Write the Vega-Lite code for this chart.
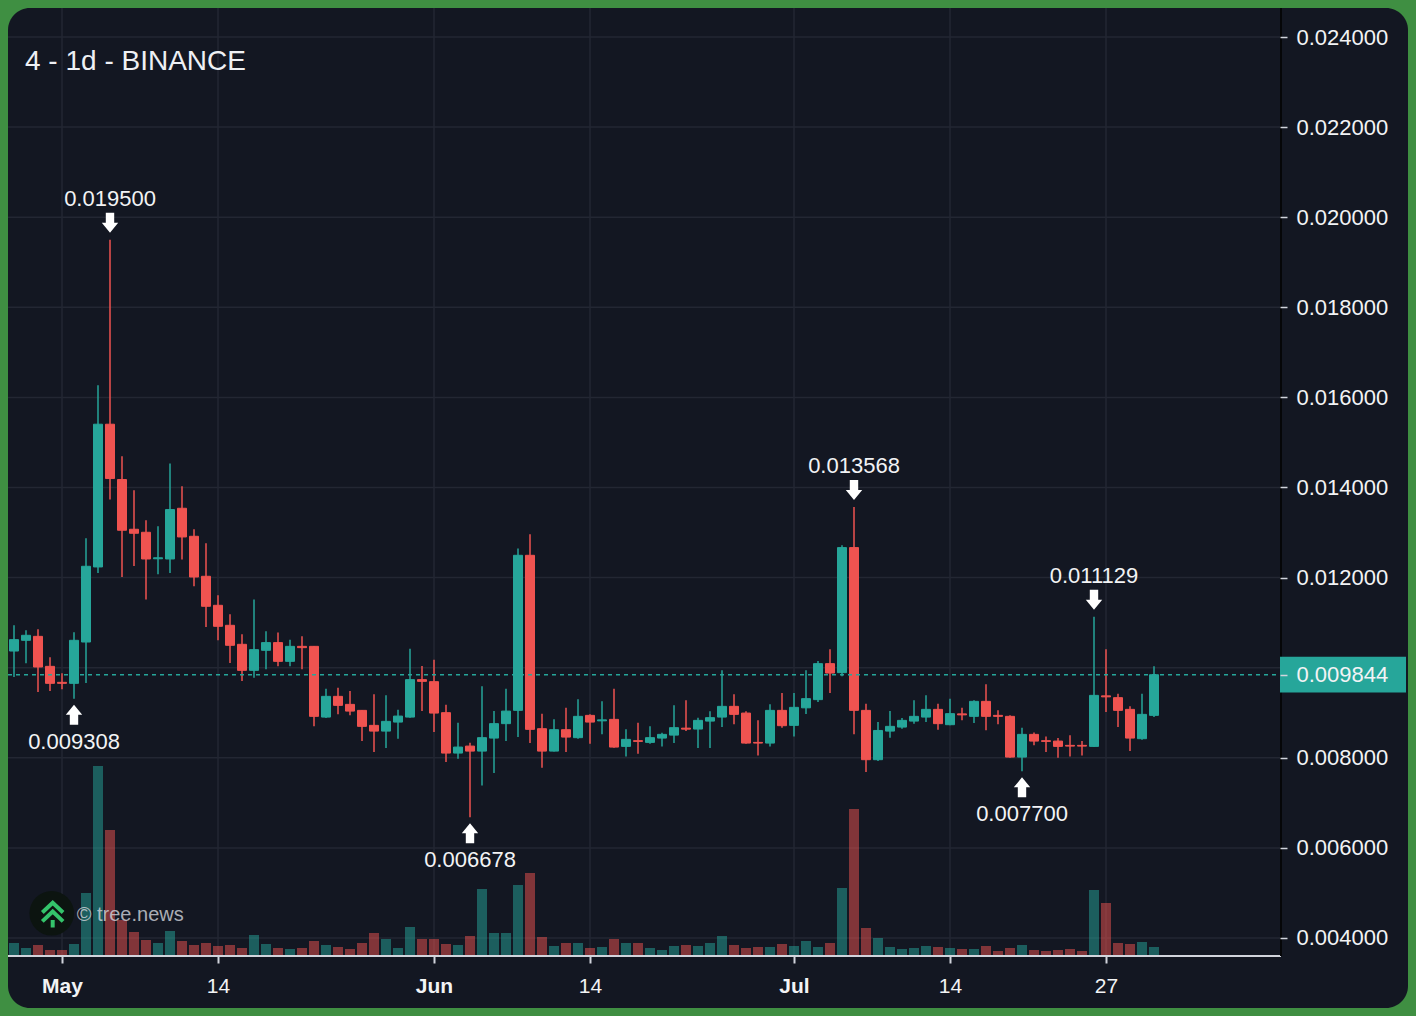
{
  "$schema": "https://vega.github.io/schema/vega-lite/v6.json",
  "width": 1400,
  "height": 1000,
  "autosize": {"type": "none"},
  "padding": 8,
  "background": "#3f8f42",
  "config": {
    "font": "Liberation Sans",
    "view": {"fill": "#131722", "cornerRadius": 22, "stroke": null},
    "scale": {"continuousPadding": 0}
  },
  "title": {
    "text": "4 - 1d - BINANCE",
    "anchor": "start",
    "frame": "group",
    "orient": "top",
    "offset": -91,
    "baseline": "alphabetic",
    "dx": 17,
    "fontSize": 28,
    "fontWeight": "normal",
    "color": "#eef0f4",
    "font": "Liberation Sans"
  },
  "datasets": {
    "candles": [
      {"date": "2024-04-27", "open": 0.010370, "high": 0.010941, "low": 0.009792, "close": 0.010623, "vol": 12},
      {"date": "2024-04-28", "open": 0.010608, "high": 0.010830, "low": 0.010097, "close": 0.010719, "vol": 7},
      {"date": "2024-04-29", "open": 0.010696, "high": 0.010852, "low": 0.009459, "close": 0.010015, "vol": 10},
      {"date": "2024-04-30", "open": 0.010030, "high": 0.010230, "low": 0.009482, "close": 0.009653, "vol": 5},
      {"date": "2024-05-01", "open": 0.009675, "high": 0.009875, "low": 0.009519, "close": 0.009653, "vol": 5},
      {"date": "2024-05-02", "open": 0.009653, "high": 0.010785, "low": 0.009308, "close": 0.010608, "vol": 11},
      {"date": "2024-05-03", "open": 0.010570, "high": 0.012873, "low": 0.009659, "close": 0.012251, "vol": 62},
      {"date": "2024-05-04", "open": 0.012236, "high": 0.016271, "low": 0.012102, "close": 0.015405, "vol": 189},
      {"date": "2024-05-05", "open": 0.015405, "high": 0.019500, "low": 0.013733, "close": 0.014199, "vol": 125},
      {"date": "2024-05-06", "open": 0.014177, "high": 0.014694, "low": 0.012013, "close": 0.013051, "vol": 35},
      {"date": "2024-05-07", "open": 0.013073, "high": 0.013939, "low": 0.012258, "close": 0.012984, "vol": 23},
      {"date": "2024-05-08", "open": 0.013006, "high": 0.013273, "low": 0.011512, "close": 0.012413, "vol": 15},
      {"date": "2024-05-09", "open": 0.012418, "high": 0.013140, "low": 0.012073, "close": 0.012440, "vol": 12},
      {"date": "2024-05-10", "open": 0.012413, "high": 0.014532, "low": 0.012102, "close": 0.013510, "vol": 24},
      {"date": "2024-05-11", "open": 0.013539, "high": 0.014028, "low": 0.012400, "close": 0.012902, "vol": 14},
      {"date": "2024-05-12", "open": 0.012917, "high": 0.013073, "low": 0.011807, "close": 0.012013, "vol": 10},
      {"date": "2024-05-13", "open": 0.012029, "high": 0.012762, "low": 0.010903, "close": 0.011363, "vol": 12},
      {"date": "2024-05-14", "open": 0.011385, "high": 0.011607, "low": 0.010608, "close": 0.010919, "vol": 9},
      {"date": "2024-05-15", "open": 0.010941, "high": 0.011185, "low": 0.010103, "close": 0.010497, "vol": 10},
      {"date": "2024-05-16", "open": 0.010519, "high": 0.010741, "low": 0.009704, "close": 0.009941, "vol": 7},
      {"date": "2024-05-17", "open": 0.009941, "high": 0.011512, "low": 0.009779, "close": 0.010401, "vol": 20},
      {"date": "2024-05-18", "open": 0.010386, "high": 0.010808, "low": 0.009964, "close": 0.010557, "vol": 11},
      {"date": "2024-05-19", "open": 0.010557, "high": 0.010779, "low": 0.010030, "close": 0.010141, "vol": 7},
      {"date": "2024-05-20", "open": 0.010141, "high": 0.010623, "low": 0.010030, "close": 0.010474, "vol": 6},
      {"date": "2024-05-21", "open": 0.010474, "high": 0.010696, "low": 0.009964, "close": 0.010445, "vol": 7},
      {"date": "2024-05-22", "open": 0.010474, "high": 0.010480, "low": 0.008698, "close": 0.008920, "vol": 14},
      {"date": "2024-05-23", "open": 0.008904, "high": 0.009535, "low": 0.008882, "close": 0.009364, "vol": 10},
      {"date": "2024-05-24", "open": 0.009364, "high": 0.009557, "low": 0.008964, "close": 0.009164, "vol": 8},
      {"date": "2024-05-25", "open": 0.009186, "high": 0.009482, "low": 0.008942, "close": 0.009037, "vol": 6},
      {"date": "2024-05-26", "open": 0.009053, "high": 0.009060, "low": 0.008371, "close": 0.008698, "vol": 12},
      {"date": "2024-05-27", "open": 0.008720, "high": 0.009408, "low": 0.008127, "close": 0.008593, "vol": 22},
      {"date": "2024-05-28", "open": 0.008593, "high": 0.009386, "low": 0.008216, "close": 0.008809, "vol": 16},
      {"date": "2024-05-29", "open": 0.008793, "high": 0.009068, "low": 0.008424, "close": 0.008926, "vol": 7},
      {"date": "2024-05-30", "open": 0.008904, "high": 0.010423, "low": 0.008891, "close": 0.009735, "vol": 28},
      {"date": "2024-05-31", "open": 0.009735, "high": 0.010037, "low": 0.009037, "close": 0.009697, "vol": 16},
      {"date": "2024-06-01", "open": 0.009690, "high": 0.010179, "low": 0.008571, "close": 0.008993, "vol": 16},
      {"date": "2024-06-02", "open": 0.009002, "high": 0.009179, "low": 0.007905, "close": 0.008105, "vol": 11},
      {"date": "2024-06-03", "open": 0.008105, "high": 0.008780, "low": 0.007980, "close": 0.008238, "vol": 10},
      {"date": "2024-06-04", "open": 0.008260, "high": 0.008336, "low": 0.006678, "close": 0.008149, "vol": 19},
      {"date": "2024-06-05", "open": 0.008149, "high": 0.009586, "low": 0.007387, "close": 0.008447, "vol": 66},
      {"date": "2024-06-06", "open": 0.008438, "high": 0.009037, "low": 0.007660, "close": 0.008758, "vol": 22},
      {"date": "2024-06-07", "open": 0.008758, "high": 0.009535, "low": 0.008371, "close": 0.009037, "vol": 22},
      {"date": "2024-06-08", "open": 0.009053, "high": 0.012644, "low": 0.008460, "close": 0.012495, "vol": 70},
      {"date": "2024-06-09", "open": 0.012495, "high": 0.012962, "low": 0.008327, "close": 0.008631, "vol": 82},
      {"date": "2024-06-10", "open": 0.008646, "high": 0.008980, "low": 0.007780, "close": 0.008149, "vol": 18},
      {"date": "2024-06-11", "open": 0.008149, "high": 0.008853, "low": 0.008140, "close": 0.008624, "vol": 9},
      {"date": "2024-06-12", "open": 0.008624, "high": 0.009113, "low": 0.008127, "close": 0.008460, "vol": 12},
      {"date": "2024-06-13", "open": 0.008447, "high": 0.009297, "low": 0.008424, "close": 0.008920, "vol": 12},
      {"date": "2024-06-14", "open": 0.008942, "high": 0.008964, "low": 0.008313, "close": 0.008793, "vol": 7},
      {"date": "2024-06-15", "open": 0.008820, "high": 0.009253, "low": 0.008520, "close": 0.008842, "vol": 8},
      {"date": "2024-06-16", "open": 0.008853, "high": 0.009535, "low": 0.008224, "close": 0.008238, "vol": 16},
      {"date": "2024-06-17", "open": 0.008253, "high": 0.008631, "low": 0.008031, "close": 0.008409, "vol": 12},
      {"date": "2024-06-18", "open": 0.008380, "high": 0.008780, "low": 0.008091, "close": 0.008364, "vol": 12},
      {"date": "2024-06-19", "open": 0.008342, "high": 0.008698, "low": 0.008313, "close": 0.008447, "vol": 7},
      {"date": "2024-06-20", "open": 0.008438, "high": 0.008558, "low": 0.008253, "close": 0.008520, "vol": 5},
      {"date": "2024-06-21", "open": 0.008504, "high": 0.009164, "low": 0.008327, "close": 0.008669, "vol": 9},
      {"date": "2024-06-22", "open": 0.008658, "high": 0.009275, "low": 0.008593, "close": 0.008636, "vol": 10},
      {"date": "2024-06-23", "open": 0.008638, "high": 0.008891, "low": 0.008216, "close": 0.008831, "vol": 9},
      {"date": "2024-06-24", "open": 0.008815, "high": 0.009031, "low": 0.008216, "close": 0.008891, "vol": 12},
      {"date": "2024-06-25", "open": 0.008904, "high": 0.009941, "low": 0.008682, "close": 0.009142, "vol": 19},
      {"date": "2024-06-26", "open": 0.009142, "high": 0.009408, "low": 0.008742, "close": 0.008964, "vol": 10},
      {"date": "2024-06-27", "open": 0.008993, "high": 0.009031, "low": 0.008313, "close": 0.008327, "vol": 7},
      {"date": "2024-06-28", "open": 0.008342, "high": 0.008831, "low": 0.008053, "close": 0.008327, "vol": 8},
      {"date": "2024-06-29", "open": 0.008327, "high": 0.009186, "low": 0.008253, "close": 0.009053, "vol": 8},
      {"date": "2024-06-30", "open": 0.009053, "high": 0.009437, "low": 0.008669, "close": 0.008713, "vol": 11},
      {"date": "2024-07-01", "open": 0.008720, "high": 0.009437, "low": 0.008475, "close": 0.009120, "vol": 9},
      {"date": "2024-07-02", "open": 0.009109, "high": 0.009941, "low": 0.008971, "close": 0.009313, "vol": 14},
      {"date": "2024-07-03", "open": 0.009291, "high": 0.010148, "low": 0.009237, "close": 0.010090, "vol": 8},
      {"date": "2024-07-04", "open": 0.010090, "high": 0.010408, "low": 0.009437, "close": 0.009881, "vol": 12},
      {"date": "2024-07-05", "open": 0.009890, "high": 0.012718, "low": 0.009808, "close": 0.012666, "vol": 67},
      {"date": "2024-07-06", "open": 0.012666, "high": 0.013568, "low": 0.008520, "close": 0.009053, "vol": 146},
      {"date": "2024-07-07", "open": 0.009053, "high": 0.009202, "low": 0.007683, "close": 0.007958, "vol": 27},
      {"date": "2024-07-08", "open": 0.007958, "high": 0.008793, "low": 0.007927, "close": 0.008607, "vol": 17},
      {"date": "2024-07-09", "open": 0.008593, "high": 0.009037, "low": 0.008447, "close": 0.008698, "vol": 8},
      {"date": "2024-07-10", "open": 0.008682, "high": 0.008882, "low": 0.008646, "close": 0.008831, "vol": 6},
      {"date": "2024-07-11", "open": 0.008815, "high": 0.009275, "low": 0.008758, "close": 0.008920, "vol": 7},
      {"date": "2024-07-12", "open": 0.008904, "high": 0.009386, "low": 0.008793, "close": 0.009075, "vol": 9},
      {"date": "2024-07-13", "open": 0.009075, "high": 0.009202, "low": 0.008624, "close": 0.008758, "vol": 8},
      {"date": "2024-07-14", "open": 0.008735, "high": 0.009313, "low": 0.008720, "close": 0.008980, "vol": 7},
      {"date": "2024-07-15", "open": 0.008975, "high": 0.009113, "low": 0.008831, "close": 0.008953, "vol": 6},
      {"date": "2024-07-16", "open": 0.008920, "high": 0.009275, "low": 0.008771, "close": 0.009253, "vol": 6},
      {"date": "2024-07-17", "open": 0.009253, "high": 0.009630, "low": 0.008609, "close": 0.008920, "vol": 9},
      {"date": "2024-07-18", "open": 0.008942, "high": 0.009053, "low": 0.008742, "close": 0.008920, "vol": 4},
      {"date": "2024-07-19", "open": 0.008920, "high": 0.008942, "low": 0.008002, "close": 0.008016, "vol": 7},
      {"date": "2024-07-20", "open": 0.008016, "high": 0.008669, "low": 0.007700, "close": 0.008520, "vol": 10},
      {"date": "2024-07-21", "open": 0.008520, "high": 0.008564, "low": 0.008276, "close": 0.008371, "vol": 5},
      {"date": "2024-07-22", "open": 0.008380, "high": 0.008475, "low": 0.008127, "close": 0.008364, "vol": 4},
      {"date": "2024-07-23", "open": 0.008371, "high": 0.008438, "low": 0.008002, "close": 0.008253, "vol": 5},
      {"date": "2024-07-24", "open": 0.008276, "high": 0.008498, "low": 0.008031, "close": 0.008260, "vol": 6},
      {"date": "2024-07-25", "open": 0.008276, "high": 0.008371, "low": 0.008053, "close": 0.008260, "vol": 4},
      {"date": "2024-07-26", "open": 0.008253, "high": 0.011129, "low": 0.008238, "close": 0.009386, "vol": 65},
      {"date": "2024-07-27", "open": 0.009375, "high": 0.010408, "low": 0.009015, "close": 0.009353, "vol": 52},
      {"date": "2024-07-28", "open": 0.009335, "high": 0.009424, "low": 0.008682, "close": 0.009053, "vol": 12},
      {"date": "2024-07-29", "open": 0.009075, "high": 0.009142, "low": 0.008149, "close": 0.008438, "vol": 11},
      {"date": "2024-07-30", "open": 0.008424, "high": 0.009424, "low": 0.008402, "close": 0.008964, "vol": 13},
      {"date": "2024-07-31", "open": 0.008942, "high": 0.010030, "low": 0.008904, "close": 0.009844, "vol": 8}
    ],
    "annotations": [
      {"date": "2024-05-05", "price": 0.0195, "label": "0.019500", "kind": "high"},
      {"date": "2024-07-06", "price": 0.013568, "label": "0.013568", "kind": "high"},
      {"date": "2024-07-26", "price": 0.011129, "label": "0.011129", "kind": "high"},
      {"date": "2024-05-02", "price": 0.009308, "label": "0.009308", "kind": "low"},
      {"date": "2024-06-04", "price": 0.006678, "label": "0.006678", "kind": "low"},
      {"date": "2024-07-20", "price": 0.0077, "label": "0.007700", "kind": "low"}
    ],
    "hgrid": [
      {"p": 0.004}, {"p": 0.006}, {"p": 0.008}, {"p": 0.010}, {"p": 0.012}, {"p": 0.014},
      {"p": 0.016}, {"p": 0.018}, {"p": 0.020}, {"p": 0.022}, {"p": 0.024}
    ],
    "vgrid": [
      {"date": "2024-05-01"}, {"date": "2024-05-14"}, {"date": "2024-06-01"}, {"date": "2024-06-14"},
      {"date": "2024-07-01"}, {"date": "2024-07-14"}, {"date": "2024-07-27"}
    ]
  },
  "resolve": {"scale": {"y": "independent"}},
  "layer": [
    {
      "data": {"name": "hgrid"},
      "mark": {"type": "rule", "color": "#232733", "strokeWidth": 1.5},
      "encoding": {
        "y": {"field": "p", "type": "quantitative", "scale": {"domain": [0.00244617, 0.02464373], "nice": false, "zero": false}, "axis": null},
        "x": {"datum": 1714132800000, "type": "temporal", "scale": {"type": "utc", "domain": [1714132800000, 1724212800000], "nice": false, "padding": 0}},
        "x2": {"datum": 1723291200000}
      }
    },
    {
      "data": {"name": "vgrid"},
      "mark": {"type": "rule", "color": "#232733", "strokeWidth": 1.5},
      "encoding": {
        "x": {
          "field": "date",
          "type": "temporal",
          "scale": {"type": "utc", "domain": [1714132800000, 1724212800000], "nice": false, "padding": 0},
          "axis": {
            "orient": "bottom",
            "offset": -52,
            "title": null,
            "values": [1714521600000, 1715644800000, 1717200000000, 1718323200000, 1719792000000, 1720915200000, 1722038400000],
            "labelExpr": "utcdate(datum.value) == 1 ? utcFormat(datum.value, '%b') : utcFormat(datum.value, '%d')",
            "labelFontWeight": {"condition": {"test": "utcdate(datum.value) == 1", "value": "bold"}, "value": "normal"},
            "domain": false,
            "grid": false,
            "tickSize": 7,
            "tickWidth": 2,
            "tickColor": "#d1d4dc",
            "labelFontSize": 21,
            "labelColor": "#f2f3f5",
            "labelPadding": 12,
            "labelOverlap": false,
            "labelFlush": false,
            "zindex": 2
          }
        },
        "y": {"datum": 0.02464373, "type": "quantitative", "scale": {"domain": [0.00244617, 0.02464373], "nice": false, "zero": false}, "axis": null},
        "y2": {"datum": 0.0036004}
      }
    },
    {
      "data": {"name": "candles"},
      "mark": {"type": "bar", "size": 10, "opacity": 0.5},
      "encoding": {
        "x": {"field": "date", "type": "temporal", "scale": {"type": "utc", "domain": [1714132800000, 1724212800000], "nice": false, "padding": 0}},
        "y": {"field": "vol", "type": "quantitative", "scale": {"domain": [-53, 947], "nice": false, "zero": false}, "axis": null},
        "y2": {"datum": 0},
        "color": {"condition": {"test": "datum.close >= datum.open", "value": "#26a69a"}, "value": "#ef5350"}
      }
    },
    {
      "data": {"name": "candles"},
      "mark": {"type": "rule", "strokeWidth": 1.5},
      "encoding": {
        "x": {"field": "date", "type": "temporal", "scale": {"type": "utc", "domain": [1714132800000, 1724212800000], "nice": false, "padding": 0}},
        "y": {"field": "low", "type": "quantitative", "scale": {"domain": [0.00244617, 0.02464373], "nice": false, "zero": false}, "axis": null},
        "y2": {"field": "high"},
        "color": {"condition": {"test": "datum.close >= datum.open", "value": "#26a69a"}, "value": "#ef5350"}
      }
    },
    {
      "data": {"name": "candles"},
      "mark": {"type": "bar", "size": 9, "strokeWidth": 1},
      "encoding": {
        "x": {"field": "date", "type": "temporal", "scale": {"type": "utc", "domain": [1714132800000, 1724212800000], "nice": false, "padding": 0}},
        "y": {
          "field": "open",
          "type": "quantitative",
          "scale": {"domain": [0.00244617, 0.02464373], "nice": false, "zero": false},
          "axis": {
            "orient": "right",
            "offset": -128,
            "title": null,
            "values": [0.004, 0.006, 0.008, 0.009844, 0.012, 0.014, 0.016, 0.018, 0.02, 0.022, 0.024],
            "format": ".6f",
            "domain": false,
            "grid": false,
            "tickSize": 7,
            "tickWidth": 1.5,
            "tickColor": "#d1d4dc",
            "labelPadding": 9,
            "labelFontSize": 22,
            "labelColor": "#f2f3f5",
            "labelOverlap": false,
            "labelBound": false,
            "labelFlush": false,
            "zindex": 2
          }
        },
        "y2": {"field": "close"},
        "color": {"condition": {"test": "datum.close >= datum.open", "value": "#26a69a"}, "value": "#ef5350"},
        "stroke": {"condition": {"test": "datum.close >= datum.open", "value": "#26a69a"}, "value": "#ef5350"}
      }
    },
    {
      "data": {"values": [{}]},
      "mark": {"type": "point", "shape": "circle", "filled": true, "color": "#0c1410", "opacity": 1, "size": 1990},
      "encoding": {
        "x": {"datum": 1714447440000, "type": "temporal", "scale": {"type": "utc", "domain": [1714132800000, 1724212800000], "nice": false, "padding": 0}},
        "y": {"datum": 0.0045482, "type": "quantitative", "scale": {"domain": [0.00244617, 0.02464373], "nice": false, "zero": false}, "axis": null}
      }
    },
    {
      "data": {"values": [{}]},
      "mark": {
        "type": "point",
        "shape": "M-0.78,-0.12 L0,-0.85 L0.78,-0.12 M-0.78,0.55 L0,-0.2 L0.78,0.55 M0,0.45 L0,1",
        "filled": false,
        "stroke": "#34c46b",
        "strokeWidth": 4,
        "opacity": 1,
        "size": 708
      },
      "encoding": {
        "x": {"datum": 1714454640000, "type": "temporal", "scale": {"type": "utc", "domain": [1714132800000, 1724212800000], "nice": false, "padding": 0}},
        "y": {"datum": 0.0045305, "type": "quantitative", "scale": {"domain": [0.00244617, 0.02464373], "nice": false, "zero": false}, "axis": null}
      }
    },
    {
      "data": {"values": [{"text": "© tree.news"}]},
      "mark": {"type": "text", "align": "left", "baseline": "middle", "fontSize": 20, "color": "#d0d3da", "opacity": 0.8},
      "encoding": {
        "text": {"field": "text"},
        "x": {"datum": 1714627440000, "type": "temporal", "scale": {"type": "utc", "domain": [1714132800000, 1724212800000], "nice": false, "padding": 0}},
        "y": {"datum": 0.0045105, "type": "quantitative", "scale": {"domain": [0.00244617, 0.02464373], "nice": false, "zero": false}, "axis": null}
      }
    },
    {
      "data": {"values": [{}]},
      "mark": {"type": "rule", "color": "#d1d4dc", "strokeWidth": 2},
      "encoding": {
        "x": {"datum": 1714132800000, "type": "temporal", "scale": {"type": "utc", "domain": [1714132800000, 1724212800000], "nice": false, "padding": 0}},
        "x2": {"datum": 1723298400000},
        "y": {"datum": 0.0036004, "type": "quantitative", "scale": {"domain": [0.00244617, 0.02464373], "nice": false, "zero": false}, "axis": null}
      }
    },
    {
      "data": {"values": [{}]},
      "mark": {"type": "rule", "color": "#050608", "strokeWidth": 2},
      "encoding": {
        "x": {"datum": 1723298400000, "type": "temporal", "scale": {"type": "utc", "domain": [1714132800000, 1724212800000], "nice": false, "padding": 0}},
        "y": {"datum": 0.02464373, "type": "quantitative", "scale": {"domain": [0.00244617, 0.02464373], "nice": false, "zero": false}, "axis": null},
        "y2": {"datum": 0.0036004}
      }
    },
    {
      "data": {"values": [{}]},
      "mark": {"type": "rule", "color": "#26a69a", "strokeWidth": 1.5, "strokeDash": [4, 4]},
      "encoding": {
        "x": {"datum": 1714132800000, "type": "temporal", "scale": {"type": "utc", "domain": [1714132800000, 1724212800000], "nice": false, "padding": 0}},
        "x2": {"datum": 1723291200000},
        "y": {"datum": 0.009844, "type": "quantitative", "scale": {"domain": [0.00244617, 0.02464373], "nice": false, "zero": false}, "axis": null}
      }
    },
    {
      "data": {"values": [{}]},
      "mark": {"type": "rect", "color": "#26a69a"},
      "encoding": {
        "x": {"datum": 1723291200000, "type": "temporal", "scale": {"type": "utc", "domain": [1714132800000, 1724212800000], "nice": false, "padding": 0}},
        "x2": {"datum": 1724198400000},
        "y": {"datum": 0.010241, "type": "quantitative", "scale": {"domain": [0.00244617, 0.02464373], "nice": false, "zero": false}, "axis": null},
        "y2": {"datum": 0.009447}
      }
    },
    {
      "data": {"name": "annotations"},
      "transform": [{"filter": "datum.kind == 'high'"}],
      "mark": {"type": "point", "shape": "M-0.42,-1 L0.42,-1 L0.42,0 L0.82,0 L0,1 L-0.82,0 L-0.42,0 Z", "filled": true, "color": "#ffffff", "opacity": 1, "size": 400, "yOffset": -17},
      "encoding": {
        "x": {"field": "date", "type": "temporal", "scale": {"type": "utc", "domain": [1714132800000, 1724212800000], "nice": false, "padding": 0}},
        "y": {"field": "price", "type": "quantitative", "scale": {"domain": [0.00244617, 0.02464373], "nice": false, "zero": false}, "axis": null}
      }
    },
    {
      "data": {"name": "annotations"},
      "transform": [{"filter": "datum.kind == 'low'"}],
      "mark": {"type": "point", "shape": "M-0.42,1 L0.42,1 L0.42,0 L0.82,0 L0,-1 L-0.82,0 L-0.42,0 Z", "filled": true, "color": "#ffffff", "opacity": 1, "size": 400, "yOffset": 16},
      "encoding": {
        "x": {"field": "date", "type": "temporal", "scale": {"type": "utc", "domain": [1714132800000, 1724212800000], "nice": false, "padding": 0}},
        "y": {"field": "price", "type": "quantitative", "scale": {"domain": [0.00244617, 0.02464373], "nice": false, "zero": false}, "axis": null}
      }
    },
    {
      "data": {"name": "annotations"},
      "transform": [{"filter": "datum.kind == 'high'"}],
      "mark": {"type": "text", "fontSize": 22, "color": "#f2f3f5", "baseline": "middle", "align": "center", "dy": -41},
      "encoding": {
        "text": {"field": "label"},
        "x": {"field": "date", "type": "temporal", "scale": {"type": "utc", "domain": [1714132800000, 1724212800000], "nice": false, "padding": 0}},
        "y": {"field": "price", "type": "quantitative", "scale": {"domain": [0.00244617, 0.02464373], "nice": false, "zero": false}, "axis": null}
      }
    },
    {
      "data": {"name": "annotations"},
      "transform": [{"filter": "datum.kind == 'low'"}],
      "mark": {"type": "text", "fontSize": 22, "color": "#f2f3f5", "baseline": "middle", "align": "center", "dy": 43},
      "encoding": {
        "text": {"field": "label"},
        "x": {"field": "date", "type": "temporal", "scale": {"type": "utc", "domain": [1714132800000, 1724212800000], "nice": false, "padding": 0}},
        "y": {"field": "price", "type": "quantitative", "scale": {"domain": [0.00244617, 0.02464373], "nice": false, "zero": false}, "axis": null}
      }
    }
  ]
}
